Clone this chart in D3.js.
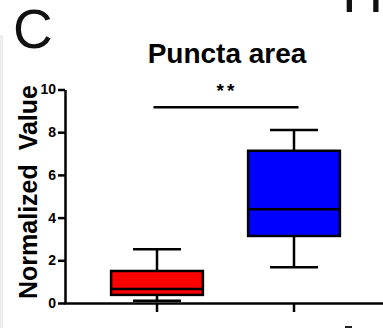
<!DOCTYPE html>
<html>
<head>
<meta charset="utf-8">
<script src="https://cdn.jsdelivr.net/npm/d3@7"></script>
<style>
  body { margin: 0; background: #fff; }
  svg { display: block; font-family: Arial, "Liberation Sans", Helvetica, sans-serif; }
</style>
</head>
<body>
<svg id="chart" width="383" height="328"></svg>
<script>
// data
const groups = ["Group 1", "Group 2"];
const colors = ["#ff0000", "#0000ff"];
const mins = [0.1, 1.67];
const q1s = [0.38, 3.14];
const medians = [0.66, 4.39];
const q3s = [1.5, 7.13];
const maxs = [2.52, 8.1];
const yTicks = [0, 2, 4, 6, 8, 10];

const svg = d3.select("#chart");

const x = d3.scaleBand()
  .domain(groups)
  .range([88.5, 362.5])
  .padding(0);

const y = d3.scaleLinear()
  .domain([0, 10])
  .range([303, 89.5]);

const boxW = x.bandwidth() * 0.67;
const capW = x.bandwidth() * 0.35;

// faint strip on the left edge
svg.append("rect")
  .attr("x", 0).attr("y", 35)
  .attr("width", 3).attr("height", 293)
  .attr("fill", "#eeeeee");

// panel letter
svg.append("text")
  .attr("x", 13).attr("y", 48)
  .attr("font-size", 55)
  .attr("fill", "#111")
  .text("C");

// neighbouring panel letter, cut off at the top
svg.append("text")
  .attr("x", 342).attr("y", 11.5)
  .attr("font-size", 57)
  .attr("fill", "#111")
  .text("H");

// little mark at bottom right
svg.append("rect")
  .attr("x", 345).attr("y", 326)
  .attr("width", 7).attr("height", 2)
  .attr("fill", "#222");

// title
svg.append("text")
  .attr("x", 227).attr("y", 62.5)
  .attr("text-anchor", "middle")
  .attr("font-size", 28)
  .attr("font-weight", "bold")
  .text("Puncta area");

// y axis title
svg.append("text")
  .attr("transform", "translate(36.5,192) rotate(-90)")
  .attr("text-anchor", "middle")
  .attr("font-size", 25)
  .attr("font-weight", "bold")
  .attr("xml:space", "preserve")
  .text("Normalized  Value");

// y axis
const yAxis = svg.append("g")
  .attr("transform", "translate(65,0)")
  .call(d3.axisLeft(y).tickValues(yTicks).tickSize(7).tickSizeOuter(0).tickPadding(2));
yAxis.select(".domain").attr("stroke", "#000").attr("stroke-width", 2.5);
yAxis.selectAll(".tick line").attr("stroke", "#000").attr("stroke-width", 2.5);
yAxis.selectAll(".tick text")
  .attr("font-size", 14)
  .attr("font-weight", "bold")
  .attr("font-family", "Arial, 'Liberation Sans', sans-serif")
  .attr("fill", "#000");

// x axis
const xAxis = svg.append("g")
  .attr("transform", `translate(0,${y(0)})`)
  .call(d3.axisBottom(x).tickSize(9).tickSizeOuter(0).tickFormat(""));
xAxis.select(".domain")
  .attr("d", `M63.75,0.5H383`)
  .attr("stroke", "#000").attr("stroke-width", 2.5);
xAxis.selectAll(".tick line").attr("stroke", "#000").attr("stroke-width", 2.5);

// boxes
const boxes = svg.append("g")
  .selectAll("g")
  .data(groups)
  .join("g")
  .attr("transform", d => `translate(${x(d) + x.bandwidth() / 2},0)`);

boxes.append("line")
  .attr("y1", (d, i) => y(maxs[i]))
  .attr("y2", (d, i) => y(mins[i]))
  .attr("stroke", "#000").attr("stroke-width", 2.5);

boxes.append("line")
  .attr("x1", -capW / 2).attr("x2", capW / 2)
  .attr("y1", (d, i) => y(maxs[i])).attr("y2", (d, i) => y(maxs[i]))
  .attr("stroke", "#000").attr("stroke-width", 2.5);

boxes.append("line")
  .attr("x1", -capW / 2).attr("x2", capW / 2)
  .attr("y1", (d, i) => y(mins[i])).attr("y2", (d, i) => y(mins[i]))
  .attr("stroke", "#000").attr("stroke-width", 2.5);

boxes.append("rect")
  .attr("x", -boxW / 2)
  .attr("width", boxW)
  .attr("y", (d, i) => y(q3s[i]))
  .attr("height", (d, i) => y(q1s[i]) - y(q3s[i]))
  .attr("fill", (d, i) => colors[i])
  .attr("stroke", "#000").attr("stroke-width", 2.5);

boxes.append("line")
  .attr("x1", -boxW / 2).attr("x2", boxW / 2)
  .attr("y1", (d, i) => y(medians[i])).attr("y2", (d, i) => y(medians[i]))
  .attr("stroke", "#000").attr("stroke-width", 2.5);

// significance bar
const c1 = x(groups[0]) + x.bandwidth() / 2;
const c2 = x(groups[1]) + x.bandwidth() / 2;
svg.append("line")
  .attr("x1", c1 - 3.5).attr("x2", c2 + 4.5)
  .attr("y1", 107.3).attr("y2", 107.3)
  .attr("stroke", "#000").attr("stroke-width", 2.5);

svg.append("text")
  .attr("x", (c1 + c2) / 2 + 1.5).attr("y", 97)
  .attr("text-anchor", "middle")
  .attr("font-size", 19)
  .attr("font-weight", "bold")
  .attr("letter-spacing", 3)
  .text("**");
</script>
</body>
</html>
